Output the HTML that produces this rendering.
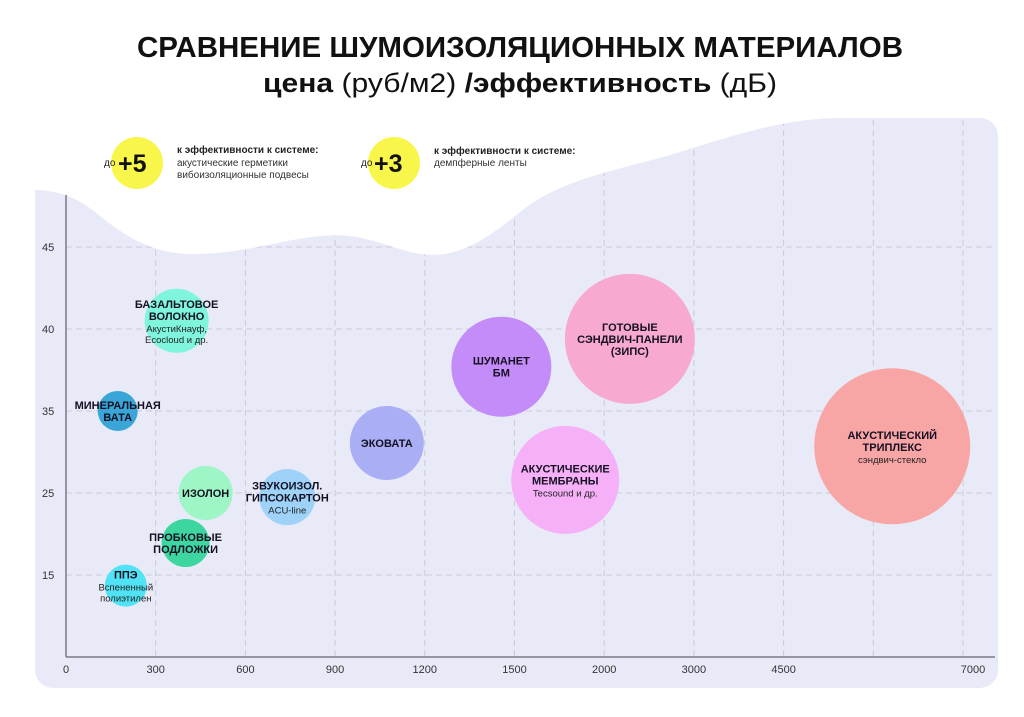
<!DOCTYPE html>
<html><head><meta charset="utf-8"><style>
html,body{margin:0;padding:0;background:#fff;}
svg{display:block;font-family:"Liberation Sans","DejaVu Sans",sans-serif;}
</style></head><body>
<svg id="chart" width="1024" height="717" viewBox="0 0 1024 717" xmlns="http://www.w3.org/2000/svg">
<rect x="35" y="118" width="963" height="570" rx="18" fill="#e9eaf8"/>
<g id="grid"></g>
<path d="M0 0 H1024 V118 L840 118 C780 118 720 140 670 155 C610 172 560 180 520 212 C480 245 450 262 410 252 C380 244 360 232 320 236 C280 240 250 252 200 254 C150 256 120 232 95 212 C75 196 55 190 35 190 L0 190 Z" fill="#fff"/>
<g id="axes"></g>
<g id="bubbles"></g>
<text x="520" y="57" text-anchor="middle" font-size="29" font-weight="bold" textLength="766" lengthAdjust="spacingAndGlyphs" fill="#111">СРАВНЕНИЕ ШУМОИЗОЛЯЦИОННЫХ МАТЕРИАЛОВ</text>
<text x="520" y="92" text-anchor="middle" font-size="27" textLength="514" lengthAdjust="spacingAndGlyphs" fill="#111"><tspan font-weight="bold">цена</tspan> (руб/м2) <tspan font-weight="bold">/эффективность</tspan> (дБ)</text>
<g>
<circle cx="137" cy="163" r="26" fill="#f8f64a"/>
<text x="104" y="166" font-size="10" fill="#222">до</text>
<text x="118" y="172" font-size="25" font-weight="bold" fill="#111">+5</text>
<text x="177" y="153" font-size="10" font-weight="bold" fill="#222">к эффективности к системе:</text>
<text x="177" y="166" font-size="10" fill="#333">акустические герметики</text>
<text x="177" y="178" font-size="10" fill="#333">вибоизоляционные подвесы</text>
</g>
<g>
<circle cx="394" cy="163" r="26" fill="#f8f64a"/>
<text x="361" y="166" font-size="10" fill="#222">до</text>
<text x="374" y="172" font-size="25" font-weight="bold" fill="#111">+3</text>
<text x="434" y="154" font-size="10" font-weight="bold" fill="#222">к эффективности к системе:</text>
<text x="434" y="166" font-size="10" fill="#333">демпферные ленты</text>
</g>
</svg>
<script>
const xTickValues=[0,300,600,900,1200,1500,2000,3000,4500,5750,7000];
const xTickLabels=["0","300","600","900","1200","1500","2000","3000","4500","","7000"];
const yTickValues=[5,15,25,35,40,45];
const yTickLabels=["","15","25","35","40","45"];
const names=["ППЭ","ПРОБКОВЫЕ|ПОДЛОЖКИ","ИЗОЛОН","МИНЕРАЛЬНАЯ|ВАТА","БАЗАЛЬТОВОЕ|ВОЛОКНО","ЗВУКОИЗОЛ.|ГИПСОКАРТОН","ЭКОВАТА","ШУМАНЕТ|БМ","ГОТОВЫЕ|СЭНДВИЧ-ПАНЕЛИ|(ЗИПС)","АКУСТИЧЕСКИЕ|МЕМБРАНЫ","АКУСТИЧЕСКИЙ|ТРИПЛЕКС"];
const notes=["Вспененный|полиэтилен","","","","АкустиКнауф,|Ecocloud и др.","ACU-line","","","","Tecsound и др.","сэндвич-стекло"];
const prices=[200,400,467,173,370,740,1073,1456,2286,1783,6014];
const efficiency=[13.7,18.9,25,35,40.5,24.5,31.1,37.7,39.4,26.6,30.7];
const sizes=[21,24,27,20,32,28,37,50,65,54,78];
const colors=["#4fe3f5","#3dd6a0","#9ef5c5","#3aa6d8","#7ef5dc","#9fd2f8","#a9aef5","#c48cf8","#f7a9cf","#f5b0f7","#f8a5a5"];

const NS="http://www.w3.org/2000/svg";
const X0=66,XSTEP=89.7,Y0=657,YSTEP=82;
function piece(v,vals){for(let i=0;i<vals.length-1;i++){if(v<=vals[i+1]||i===vals.length-2){return i+(v-vals[i])/(vals[i+1]-vals[i]);}}return 0;}
function xScale(v){return X0+piece(v,xTickValues)*XSTEP;}
function yScale(v){return Y0-piece(v,yTickValues)*YSTEP;}
function mk(tag,attrs,parent){const e=document.createElementNS(NS,tag);for(const k in attrs)e.setAttribute(k,attrs[k]);parent.appendChild(e);return e;}
const grid=document.getElementById('grid'),axes=document.getElementById('axes'),bub=document.getElementById('bubbles');
xTickValues.forEach((v,i)=>{const x=xScale(v);
 if(i>0){const l=mk('line',{x1:x,x2:x,y1:120,y2:Y0,stroke:'#c9cadb','stroke-width':1,'stroke-dasharray':'6 4'},grid);
 
 }
 if(xTickLabels[i]){const t=mk('text',{x:i===10?x+10:x,y:673,'text-anchor':'middle','font-size':11,fill:'#333'},axes);t.textContent=xTickLabels[i];
 
 }
});
yTickValues.forEach((v,i)=>{if(i===0)return;const y=yScale(v);
 const l=mk('line',{x1:X0,x2:995,y1:y,y2:y,stroke:'#c9cadb','stroke-width':1,'stroke-dasharray':'6 4'},grid);
 
 
 const t=mk('text',{x:42,y:y+4,'font-size':11,fill:'#333'},axes);t.textContent=yTickLabels[i];
 
 
});
const ya=mk('line',{x1:X0,x2:X0,y1:195,y2:Y0,stroke:'#7a7a85','stroke-width':1.5},axes);


const xa=mk('line',{x1:X0,x2:995,y1:Y0,y2:Y0,stroke:'#7a7a85','stroke-width':1.5},axes);


names.forEach((n,i)=>{const cx=xScale(prices[i]),cy=yScale(efficiency[i]),r=sizes[i];
 const g=mk('g',{},bub);
 
 
 mk('circle',{cx:cx,cy:cy,r:r,fill:colors[i]},g);
 const lines=n.split('|'),nl=notes[i]?notes[i].split('|'):[];
 const total=lines.length*12+nl.length*11;
 let y=cy-total/2+10;
 lines.forEach(s=>{const t=mk('text',{x:cx,y:y,'text-anchor':'middle','font-size':11,'font-weight':'bold',fill:'#151022'},g);t.textContent=s;y+=12;});
 nl.forEach(s=>{const t=mk('text',{x:cx,y:y,'text-anchor':'middle','font-size':9.5,fill:'#222'},g);t.textContent=s;y+=11;});
});
</script>
</body></html>
